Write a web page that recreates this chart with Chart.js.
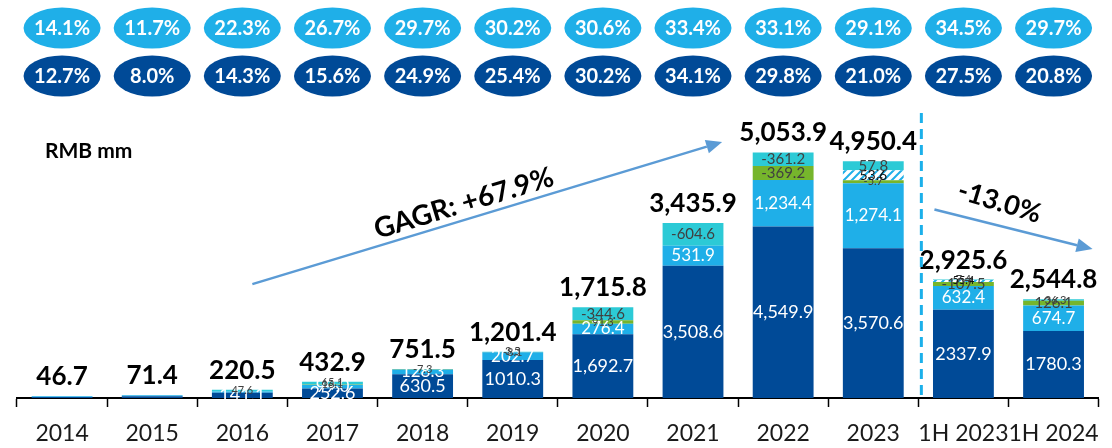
<!DOCTYPE html>
<html>
<head>
<meta charset="utf-8">
<script src="https://cdn.jsdelivr.net/npm/chart.js@4.4.1/dist/chart.umd.min.js"></script>
<style>
html,body{margin:0;padding:0;background:#fff;}
#wrap{width:1112px;height:448px;position:relative;}
</style>
</head>
<body>
<div id="wrap"><canvas id="c" width="1112" height="448"></canvas></div>
<script>
// ---------- data ----------
const categories = ['2014','2015','2016','2017','2018','2019','2020','2021','2022','2023','1H 2023','1H 2024'];

// bar segment heights as drawn (RMB mm)
const seriesCore    = [26.0, 45.0, 141.1, 252.6, 630.5, 1010.3, 1692.7, 3508.6, 4549.9, 3975.0, 2337.9, 1780.3];
const seriesSecond  = [20.7, 26.4, 31.8, 99.0, 128.3, 202.7, 276.4, 531.9, 1234.4, 1720.0, 632.4, 674.7];
const seriesGreen   = [0, 0, 0, 16.1, 7.3, 8.1, 91.3, 0, 369.2, 80.0, 107.5, 126.1];
const seriesStriped = [0, 0, 0, 0, 0, 0, 0, 0, 0, 265.0, 55.4, 0];
const seriesTeal    = [0, 0, 47.6, 65.1, 0, 3.5, 344.6, 604.6, 361.2, 240.0, 7.4, 36.3];

// printed segment labels
const labelsCore    = ['', '', '141.1', '252.6', '630.5', '1010.3', '1,692.7', '3,508.6', '4,549.9', '3,570.6', '2337.9', '1780.3'];
const labelsSecond  = ['', '', '', '99.0', '128.3', '202.7', '276.4', '531.9', '1,234.4', '1,274.1', '632.4', '674.7'];
const labelsGreen   = ['', '', '', '16.1', '-7.3', '-8.1', '91.3', '', '-369.2', '-5.7', '-107.5', '126.1'];
const labelsStriped = ['', '', '', '', '', '', '', '', '', '53.6', '55.4', ''];
const labelsTeal    = ['', '', '47.6', '65.1', '', '3.5', '-344.6', '-604.6', '-361.2', '57.8', '7.4', '-36.3'];

// totals printed above bars
const totals = ['46.7','71.4','220.5','432.9','751.5','1,201.4','1,715.8','3,435.9','5,053.9','4,950.4','2,925.6','2,544.8'];

// ratio rows (%)
const ratioTop    = [14.1, 11.7, 22.3, 26.7, 29.7, 30.2, 30.6, 33.4, 33.1, 29.1, 34.5, 29.7];
const ratioBottom = [12.7, 8.0, 14.3, 15.6, 24.9, 25.4, 30.2, 34.1, 29.8, 21.0, 27.5, 20.8];

const unitText = 'RMB mm';
const cagrText = 'GAGR: +67.9%';
const declineText = '-13.0%';

// ---------- styles ----------
const C_DARK = '#004A97';
const C_LIGHT = '#1FAFE8';
const C_GREEN = '#76B52C';
const C_TEAL = '#2CCAD6';
const C_ARROW = '#5B9BD5';
const FONT = 'Lato, "Open Sans", sans-serif';

function stripePattern(){
  const p = document.createElement('canvas');
  p.width = 8; p.height = 8;
  const g = p.getContext('2d');
  g.fillStyle = '#ffffff'; g.fillRect(0,0,8,8);
  g.strokeStyle = C_LIGHT; g.lineWidth = 2;
  g.beginPath();
  g.moveTo(-2,10); g.lineTo(10,-2);
  g.moveTo(-2,2); g.lineTo(2,-2);
  g.moveTo(6,10); g.lineTo(10,6);
  g.stroke();
  return document.getElementById('c').getContext('2d').createPattern(p,'repeat');
}

const segLabels = [labelsCore, labelsSecond, labelsGreen, labelsStriped, labelsTeal];
const segStyles = [
  {color:'#ffffff', size:18, small:18},
  {color:'#ffffff', size:17, small:17},
  {color:'#404040', size:15, small:11},
  {color:'#111111', size:14, small:11},
  {color:'#404040', size:15, small:11}
];

function drawArrow(ctx, x1, y1, x2, y2){
  const ang = Math.atan2(y2-y1, x2-x1);
  const L = 16, W = 7;
  const bx = x2 - L*Math.cos(ang), by = y2 - L*Math.sin(ang);
  ctx.save();
  ctx.strokeStyle = C_ARROW; ctx.fillStyle = C_ARROW; ctx.lineWidth = 2.5;
  ctx.beginPath(); ctx.moveTo(x1,y1); ctx.lineTo(bx,by); ctx.stroke();
  ctx.beginPath();
  ctx.moveTo(x2,y2);
  ctx.lineTo(bx + W*Math.sin(ang), by - W*Math.cos(ang));
  ctx.lineTo(bx - W*Math.sin(ang), by + W*Math.cos(ang));
  ctx.closePath(); ctx.fill();
  ctx.restore();
  return ang;
}

const overlay = {
  id: 'overlay',
  afterDatasetsDraw(chart){
    const ctx = chart.ctx;
    const ys = chart.scales.y;
    ctx.save();
    ctx.textAlign = 'center';
    ctx.textBaseline = 'middle';
    // segment labels
    chart.data.datasets.forEach((ds, di) => {
      const meta = chart.getDatasetMeta(di);
      const st = segStyles[di];
      ctx.fillStyle = st.color;
      meta.data.forEach((el, i) => {
        const t = segLabels[di][i];
        if (!t) return;
        const h = Math.abs(el.base - el.y);
        ctx.font = (h < 3.9 ? st.small : st.size) + 'px ' + FONT;
        ctx.fillText(t, el.x, (el.y + el.base)/2);
      });
    });
    // totals
    ctx.fillStyle = '#000';
    ctx.font = 'bold 26px ' + FONT;
    ctx.textBaseline = 'alphabetic';
    const meta0 = chart.getDatasetMeta(0);
    categories.forEach((c, i) => {
      let sum = 0;
      chart.data.datasets.forEach(ds => sum += ds.data[i]);
      const top = ys.getPixelForValue(sum);
      ctx.fillText(totals[i], meta0.data[i].x, top - 11);
    });
    ctx.restore();
  },
  afterDraw(chart){
    const ctx = chart.ctx;
    const xs = chart.scales.x, ys = chart.scales.y;
    ctx.save();
    // ratio ellipses
    const rows = [{vals: ratioTop, color: C_LIGHT, cy: 28},{vals: ratioBottom, color: C_DARK, cy: 76}];
    rows.forEach(r => {
      r.vals.forEach((v, i) => {
        const cx = xs.getPixelForValue(i);
        ctx.fillStyle = r.color;
        ctx.beginPath();
        ctx.ellipse(cx, r.cy, 38.5, 20.5, 0, 0, Math.PI*2);
        ctx.fill();
        ctx.fillStyle = '#fff';
        ctx.font = 'bold 20px ' + FONT;
        ctx.textAlign = 'center'; ctx.textBaseline = 'middle';
        ctx.fillText(v.toFixed(1) + '%', cx, r.cy + 1);
      });
    });
    // unit
    ctx.fillStyle = '#000';
    ctx.font = 'bold 21px ' + FONT;
    ctx.textAlign = 'left'; ctx.textBaseline = 'middle';
    ctx.fillText(unitText, 45, 151);

    // dashed separator between 2023 and 1H 2023
    const sepX = (xs.getPixelForValue(9) + xs.getPixelForValue(10))/2 + 3;
    ctx.strokeStyle = '#1BB0EA'; ctx.lineWidth = 3; ctx.setLineDash([10,6]);
    ctx.beginPath(); ctx.moveTo(sepX, 113); ctx.lineTo(sepX, chart.chartArea.bottom - 3); ctx.stroke();
    ctx.setLineDash([]);

    // growth arrow 2016 -> 2022
    const ax1 = xs.getPixelForValue(2) + 10, ay1 = ys.getPixelForValue(3020);
    const ax2 = xs.getPixelForValue(8) - 61, ay2 = ys.getPixelForValue(6790);
    const ang1 = drawArrow(ctx, ax1, ay1, ax2, ay2);
    ctx.save();
    const t = 0.46;
    ctx.translate(ax1 + (ax2-ax1)*t + 7*Math.sin(ang1), ay1 + (ay2-ay1)*t - 7*Math.cos(ang1));
    ctx.rotate(ang1);
    ctx.fillStyle = '#000'; ctx.font = 'bold 28px ' + FONT;
    ctx.textAlign = 'center'; ctx.textBaseline = 'alphabetic';
    ctx.fillText(cagrText, 0, 0);
    ctx.restore();

    // decline arrow 1H 2023 -> 1H 2024
    const bx1 = xs.getPixelForValue(10) - 29, by1 = ys.getPixelForValue(5000);
    const bx2 = xs.getPixelForValue(11) + 39, by2 = ys.getPixelForValue(3950);
    drawArrow(ctx, bx1, by1, bx2, by2);
    ctx.save();
    ctx.translate((bx1+bx2)/2 - 14, (by1+by2)/2 - 27);
    ctx.rotate(17*Math.PI/180);
    ctx.fillStyle = '#000'; ctx.font = 'bold 27px ' + FONT;
    ctx.textAlign = 'center'; ctx.textBaseline = 'middle';
    ctx.fillText(declineText, 0, 0);
    ctx.restore();

    ctx.restore();
  }
};

const striped = stripePattern();

new Chart(document.getElementById('c'), {
  type: 'bar',
  data: {
    labels: categories,
    datasets: [
      {label:'core', data: seriesCore, backgroundColor: C_DARK},
      {label:'second', data: seriesSecond, backgroundColor: C_LIGHT},
      {label:'green', data: seriesGreen, backgroundColor: C_GREEN},
      {label:'striped', data: seriesStriped, backgroundColor: striped},
      {label:'teal', data: seriesTeal, backgroundColor: C_TEAL}
    ]
  },
  options: {
    responsive: false,
    animation: false,
    events: [],
    layout: {padding: {left: 17, right: 9, top: 21, bottom: 2}},
    datasets: {bar: {categoryPercentage: 1.0, barPercentage: 0.675, borderWidth: 0}},
    plugins: {legend: {display: false}, tooltip: {enabled: false}, title: {display: false}},
    scales: {
      x: {
        stacked: true,
        afterFit(scale){ scale.height = 48; },
        grid: {display: true, drawOnChartArea: false, drawTicks: true, tickLength: 9, tickColor: '#000', tickWidth: 1.5, offset: true},
        border: {display: true, color: '#000', width: 2},
        ticks: {color: '#1a1a1a', font: {family: FONT, size: 23}, padding: 13, autoSkip: false, maxRotation: 0, minRotation: 0}
      },
      y: {
        stacked: true,
        display: false,
        min: 0,
        max: 10000
      }
    }
  },
  plugins: [overlay]
});
</script>
</body>
</html>
